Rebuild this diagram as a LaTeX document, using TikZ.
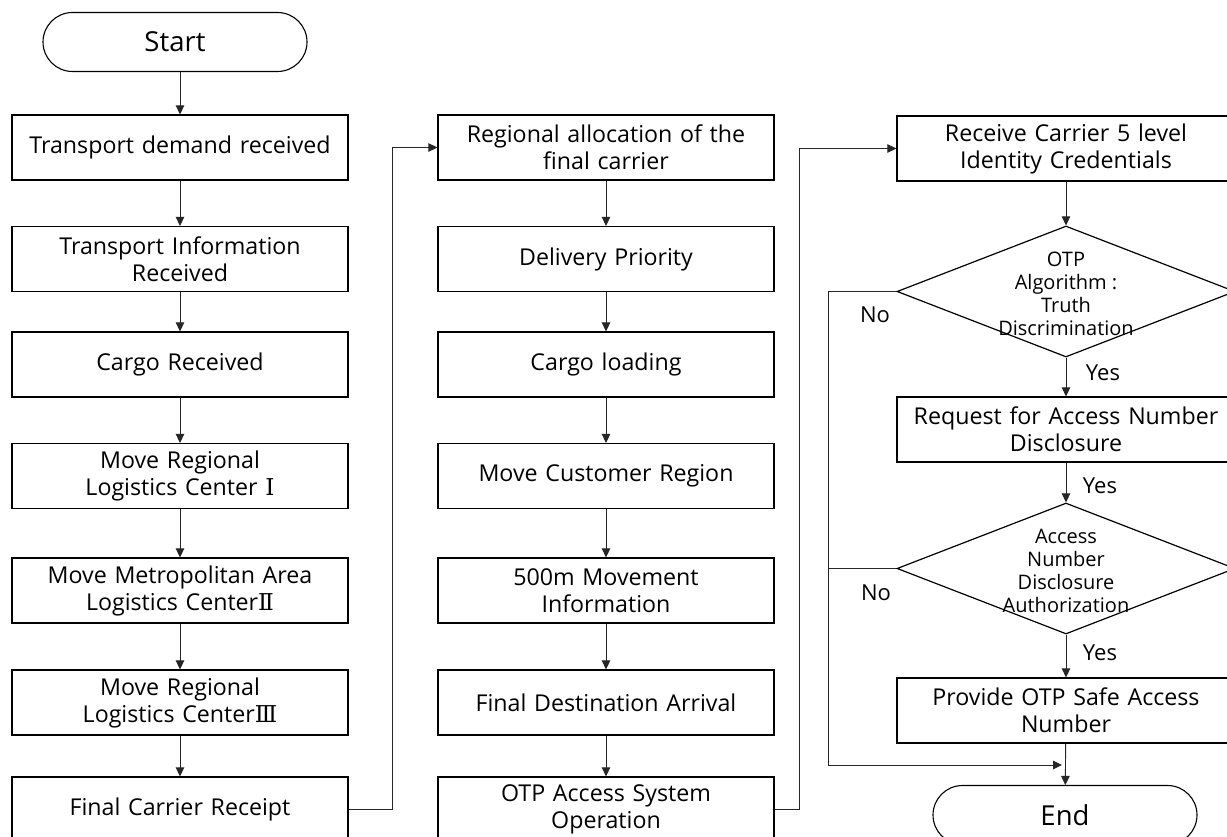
\documentclass[tikz,border=0pt]{standalone}
\usepackage{fontspec}
\setmainfont{Open Sans}
\newfontfamily\numfont{DejaVu Serif}
\usetikzlibrary{arrows.meta,shapes.geometric,shapes.misc,calc}

\begin{document}
\begin{tikzpicture}[x=1pt,y=-1pt,
  box/.style={draw=black,line width=1.2pt,minimum width=336pt,minimum height=65pt,
    text width=334pt,align=center,inner sep=0pt,font=\fontsize{23.2}{27}\selectfont},
  term/.style={draw=black,line width=1.1pt,rounded rectangle,minimum width=264pt,
    minimum height=59pt,inner sep=0pt,font=\fontsize{27.5}{30}\selectfont},
  dec/.style={draw=black,line width=1.2pt,diamond,minimum width=338pt,minimum height=131pt,inner sep=0pt},
  dectext/.style={align=center,inner sep=0pt,font=\fontsize{20}{22.8}\selectfont},
  link/.style={draw=black!85,line width=0.9pt,-{Triangle[length=9pt,width=8.5pt]}},
  wire/.style={draw=black!85,line width=0.9pt},
  lbl/.style={inner sep=0pt,font=\fontsize{22}{24}\selectfont}
]
\clip (0,0) rectangle (1227,837);
\fill[white] (0,0) rectangle (1227,837);

% first column
\node[term] (s) at (175,42) {Start};
\node[box] (a1) at (180,147.5) {Transport demand received};
\node[box] (a2) at (180,259) {Transport Information\\Received};
\node[box] (a3) at (180,364.5) {Cargo Received};
\node[box] (a4) at (180,476) {Move Regional\\Logistics Center {\numfont Ⅰ}};
\node[box] (a5) at (180,590.5) {Move Metropolitan Area\\Logistics Center{\numfont Ⅱ}};
\node[box] (a6) at (180,702.5) {Move Regional\\Logistics Center{\numfont Ⅲ}};
\node[box] (a7) at (180,809.5) {Final Carrier Receipt};

% second column
\node[box] (b1) at (606,147.5) {Regional allocation of the\\final carrier};
\node[box] (b2) at (606,259) {Delivery Priority};
\node[box] (b3) at (606,364.5) {Cargo loading};
\node[box] (b4) at (606,476) {Move Customer Region};
\node[box] (b5) at (606,590.5) {500m Movement\\Information};
\node[box] (b6) at (606,702.5) {Final Destination Arrival};
\node[box] (b7) at (606,809.5) {OTP Access System\\Operation};

% third column
\node[box,minimum width=338pt] (c1) at (1066,148.5) {Receive Carrier 5 level\\Identity Credentials};
\node[dec] (q1) at (1066,291.5) {};
\node[dectext] (q1t) at (1066,294) {OTP\\Algorithm :\\Truth\\Discrimination};
\node[box,minimum width=338pt] (c2) at (1066,429.5) {Request for Access Number\\Disclosure};
\node[dec] (q2) at (1066,568.5) {};
\node[dectext] (q2t) at (1066,571) {Access\\Number\\Disclosure\\Authorization};
\node[box,minimum width=338pt] (c3) at (1066,710.5) {Provide OTP Safe Access\\Number};
\node[term] (e) at (1065,815) {End};

% first column flow
\draw[link] (a1 |- s.south) -- (a1.north);
\draw[link] (a1) -- (a2);
\draw[link] (a2) -- (a3);
\draw[link] (a3) -- (a4);
\draw[link] (a4) -- (a5);
\draw[link] (a5) -- (a6);
\draw[link] (a6) -- (a7);
\draw[link] (a7.east) -- ++(44,0) |- (b1.west);

% second column flow
\draw[link] (b1) -- (b2);
\draw[link] (b2) -- (b3);
\draw[link] (b3) -- (b4);
\draw[link] (b4) -- (b5);
\draw[link] (b5) -- (b6);
\draw[link] (b6) -- (b7);
\draw[link] (b7.east) -- ++(25,0) |- (c1.west);

% third column flow
\draw[link] (c1) -- (q1.north);
\draw[link] (q1.south) -- (c2.north);
\draw[link] (c2) -- (q2.north);
\draw[link] (q2.south) -- (c3.north);
\draw[link] (c3) -- (e);

% rejection path
\coordinate (nb) at (828,765);
\draw[wire] (q1.west) -| (nb);
\draw[wire] (q2.west) -- (q2.west -| nb);
\draw[link] (nb) -- ($(nb -| e.north)+(-3,0)$);

% branch labels
\node[lbl] (n1) at (875,315) {No};
\node[lbl] (n2) at (876,593) {No};
\node[lbl] (y1) at (1103,373) {Yes};
\node[lbl] (y2) at (1100,486) {Yes};
\node[lbl] (y3) at (1100,653) {Yes};
\end{tikzpicture}
\end{document}
